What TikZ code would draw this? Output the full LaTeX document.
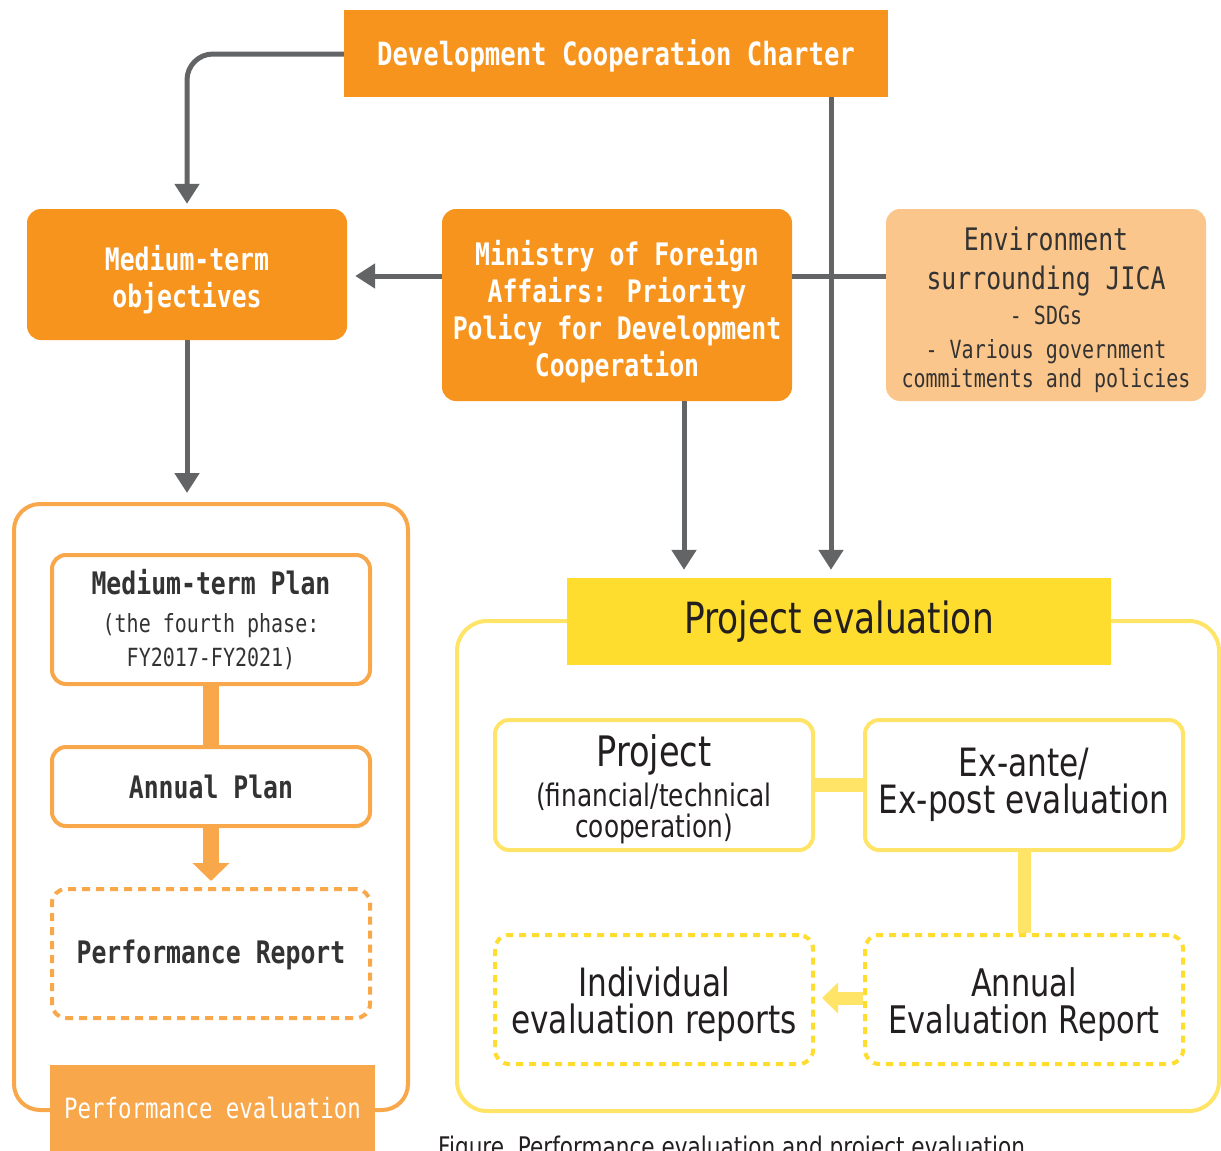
\documentclass[tikz,border=0pt]{standalone}
\usepackage{fontspec}
\setmainfont[FakeStretch=0.8]{DejaVu Sans}
\newfontfamily\monof[FakeStretch=0.8]{DejaVu Sans Mono}
\usetikzlibrary{arrows.meta}
\definecolor{orgC}{HTML}{F7941E}
\definecolor{lorg}{HTML}{F8A74B}
\definecolor{envC}{HTML}{FBC68B}
\definecolor{grayC}{HTML}{636466}
\definecolor{ylwF}{HTML}{FFDD2E}
\definecolor{ylwS}{HTML}{FFE468}
\definecolor{darkL}{HTML}{333333}
\definecolor{darkR}{HTML}{231F20}
\newcommand\myfs[2]{\fontsize{#1}{#2}\selectfont}
\newcommand\hstrut[1]{\rule{0pt}{#1}}
\tikzset{
  solidbox/.style={inner sep=0pt, align=center, text=white},
  orbox/.style={solidbox, fill=orgC, rounded corners=14pt},
  lbox/.style={draw=lorg, line width=4pt, fill=white, rounded corners=14pt, inner sep=0pt, align=center, text=darkL},
  ybox/.style={draw=ylwS, line width=4pt, fill=white, rounded corners=14pt, inner sep=0pt, align=center, text=darkR},
  dotted box/.style={dash pattern=on 8pt off 6pt},
  garrow/.style={draw=grayC, line width=5pt, -{Triangle[width=24pt,length=20pt]}},
  gline/.style={draw=grayC, line width=5pt},
}
\begin{document}
\begin{tikzpicture}[x=1pt,y=-1pt]
\useasboundingbox (0,0) rectangle (1221,1151);
% containers
\node[draw=lorg, line width=4pt, rounded corners=26pt, minimum width=394pt, minimum height=606pt, inner sep=0pt] (leftbig) at (211,807) {};
\node[draw=ylwS, line width=4pt, rounded corners=30pt, minimum width=762pt, minimum height=490pt, inner sep=0pt] (rightbig) at (838,866) {};
% top boxes
\node[solidbox, fill=orgC, minimum width=544pt, minimum height=87pt, font=\monof\bfseries\myfs{32}{36}] (dcc) at (616,53.5)
  {\hstrut{30.3pt}Development Cooperation Charter};
\node[orbox, minimum width=320pt, minimum height=131pt, font=\monof\bfseries\myfs{31}{37}] (mto) at (187,274.5)
  {\hstrut{35.6pt}Medium-term\\objectives};
\node[orbox, minimum width=350pt, minimum height=192pt, font=\monof\bfseries\myfs{31}{37}] (mofa) at (617,305)
  {\hstrut{37.6pt}Ministry of Foreign\\Affairs: Priority\\Policy for Development\\Cooperation};
\node[solidbox, fill=envC, rounded corners=14pt, text=darkL, minimum width=320pt, minimum height=192pt, font=\monof\myfs{25}{31}] (env) at (1046,305)
  {\myfs{31}{39}\hstrut{32.6pt}Environment\\[8pt]\myfs{31}{39}surrounding JICA\\[4pt]- SDGs\\[3pt]- Various government\\[-2pt]commitments and policies};
% left column
\node[lbox, minimum width=318pt, minimum height=129pt, font=\monof\myfs{25}{34}] (mtp) at (211,619.5)
  {\bfseries\myfs{31}{38}Medium-term Plan\\[4pt](the fourth phase:\\FY2017-FY2021)};
\node[lbox, minimum width=318pt, minimum height=79pt, font=\monof\bfseries\myfs{31}{37}] (ap) at (211,786.5)
  {Annual Plan};
\node[lbox, dotted box, minimum width=318pt, minimum height=129pt, font=\monof\bfseries\myfs{31}{37}] (pr) at (211,953.5)
  {\hstrut{26pt}Performance Report};
\node[solidbox, fill=lorg, minimum width=325pt, minimum height=86pt, font=\monof\myfs{28}{34}] (pel) at (212.5,1108)
  {Performance evaluation};
% right column
\node[solidbox, fill=ylwF, text=darkR, minimum width=544pt, minimum height=87pt, font=\myfs{43}{48}] (pjl) at (839,621.5)
  {Project evaluation};
\node[ybox, minimum width=318pt, minimum height=130pt, font=\myfs{31}{31}] (proj) at (654,785)
  {\myfs{42}{44}\hstrut{41pt}Project\\[7pt](financial/technical\\cooperation)};
\node[ybox, minimum width=318pt, minimum height=130pt, font=\myfs{39}{37}] (exa) at (1024,785)
  {Ex-ante/\\Ex-post evaluation};
\node[ybox, draw=ylwF, dotted box, dash pattern=on 7pt off 6pt, minimum width=318pt, minimum height=129pt, font=\myfs{39}{37}] (ier) at (654,999.5)
  {\hstrut{39.6pt}Individual\\evaluation reports};
\node[ybox, draw=ylwF, dotted box, dash pattern=on 7pt off 6pt, minimum width=318pt, minimum height=129pt, font=\myfs{38}{37}] (aer) at (1024,999.5)
  {\hstrut{38.9pt}Annual\\Evaluation Report};
% caption
\node[anchor=base west, inner sep=0pt, text=darkR, font=\myfs{27}{30}] (cap) at (438,1156)
  {Figure\ \ Performance evaluation and project evaluation};
% helper coordinates
\coordinate (hy) at (0,276);
\coordinate (vx) at (831,0);
\coordinate (mx) at (684,0);
\coordinate (ay) at (0,998);
% gray connectors
\draw[garrow, rounded corners=26pt, shorten >=5pt] (dcc.west |- 0,54) -| (mto.north);
\draw[garrow, shorten >=8pt] (mofa.west |- hy) -- (mto.east |- hy);
\draw[gline] (mofa.east |- hy) -- (env.west |- hy);
\draw[garrow, shorten >=8pt] (dcc.south -| vx) -- (pjl.north -| vx);
\draw[garrow, shorten >=8pt] (mofa.south -| mx) -- (pjl.north -| mx);
\draw[garrow, shorten >=9pt] (mto.south) -- (leftbig.north -| mto.south);
% left thick connectors
\draw[draw=lorg, line width=16pt] (mtp.south) -- (ap.north);
\draw[draw=lorg, line width=16pt, -{Triangle[width=36pt,length=18pt]}, shorten >=6pt] (ap.south) -- (pr.north);
% right thick connectors
\draw[draw=ylwS, line width=14pt] (proj.east) -- (exa.west);
\draw[draw=ylwS, line width=13pt] (exa.south) -- (aer.north);
\draw[draw=ylwS, line width=13pt, -{Triangle[width=30pt,length=16pt]}, shorten >=7pt] (aer.west |- ay) -- (ier.east |- ay);
\end{tikzpicture}
\end{document}
